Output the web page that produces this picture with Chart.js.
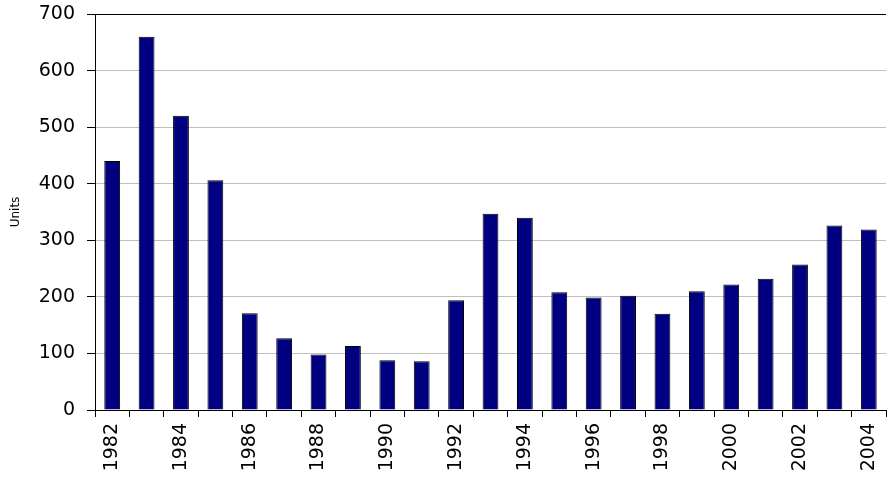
<!DOCTYPE html>
<html>
<head>
<meta charset="utf-8">
<script src="https://cdn.jsdelivr.net/npm/chart.js@4"></script>
<style>
  html, body { margin: 0; padding: 0; background: #fff; }
  #wrap { width: 889px; height: 483px; }
</style>
</head>
<body>
<div id="wrap"><canvas id="unitsChart"></canvas></div>
<script>
const years = ["1982", "1983", "1984", "1985", "1986", "1987", "1988", "1989",
    "1990", "1991", "1992", "1993", "1994", "1995", "1996", "1997", "1998",
    "1999", "2000", "2001", "2002", "2003", "2004"];
const units = [440, 660, 520, 406, 171, 127, 98, 113, 88, 86, 194, 347, 340,
    208, 199, 202, 170, 210, 222, 232, 257, 326, 319];
const yMax = 700;
const yStep = 100;

new Chart(document.getElementById("unitsChart"), {
    type: "bar",
    data: {
        labels: years,
        datasets: [
            {
                label: "Units",
                data: units,
                backgroundColor: "#000080",
                borderColor: "#000000",
                borderWidth: 1,
                barPercentage: 0.46,
                categoryPercentage: 1.0,
            },
        ],
    },
    options: {
        responsive: true,
        maintainAspectRatio: false,
        animation: false,
        layout: { padding: { top: 14, right: 3, left: 0, bottom: 0 } },
        plugins: {
            legend: { display: false },
            tooltip: { enabled: false },
        },
        scales: {
            x: {
                offset: true,
                grid: {
                    offset: true,
                    drawOnChartArea: false,
                    drawTicks: true,
                    tickLength: 7,
                    color: "#000000",
                },
                border: { color: "#000000", width: 1 },
                ticks: {
                    autoSkip: false,
                    maxRotation: 90,
                    minRotation: 90,
                    padding: 6,
                    color: "#000000",
                    font: { family: "DejaVu Sans", size: 19 },
                    callback: (v, i) => (i % 2 === 0 ? years[i] : ""),
                },
                afterFit: (scale) => {
                    scale.height = 73;
                    scale.paddingLeft = 0;
                    scale.paddingRight = 0;
                },
            },
            y: {
                min: 0,
                max: yMax,
                ticks: {
                    stepSize: yStep,
                    padding: 12,
                    color: "#000000",
                    font: { family: "DejaVu Sans", size: 19 },
                },
                grid: {
                    tickLength: 8,
                    color: (ctx) => (ctx.tick && ctx.tick.value === yMax ? "#000000" : "#c0c0c0"),
                    tickColor: "#000000",
                },
                border: { color: "#000000", width: 1 },
                title: {
                    display: true,
                    text: "Units",
                    color: "#000000",
                    font: { family: "DejaVu Sans", size: 12 },
                    padding: { top: 9, bottom: 0 },
                },
                afterFit: (scale) => {
                    scale.width = 95;
                    scale.paddingTop = 0;
                    scale.paddingBottom = 0;
                },
            },
        },
    },
});
</script>
</body>
</html>
